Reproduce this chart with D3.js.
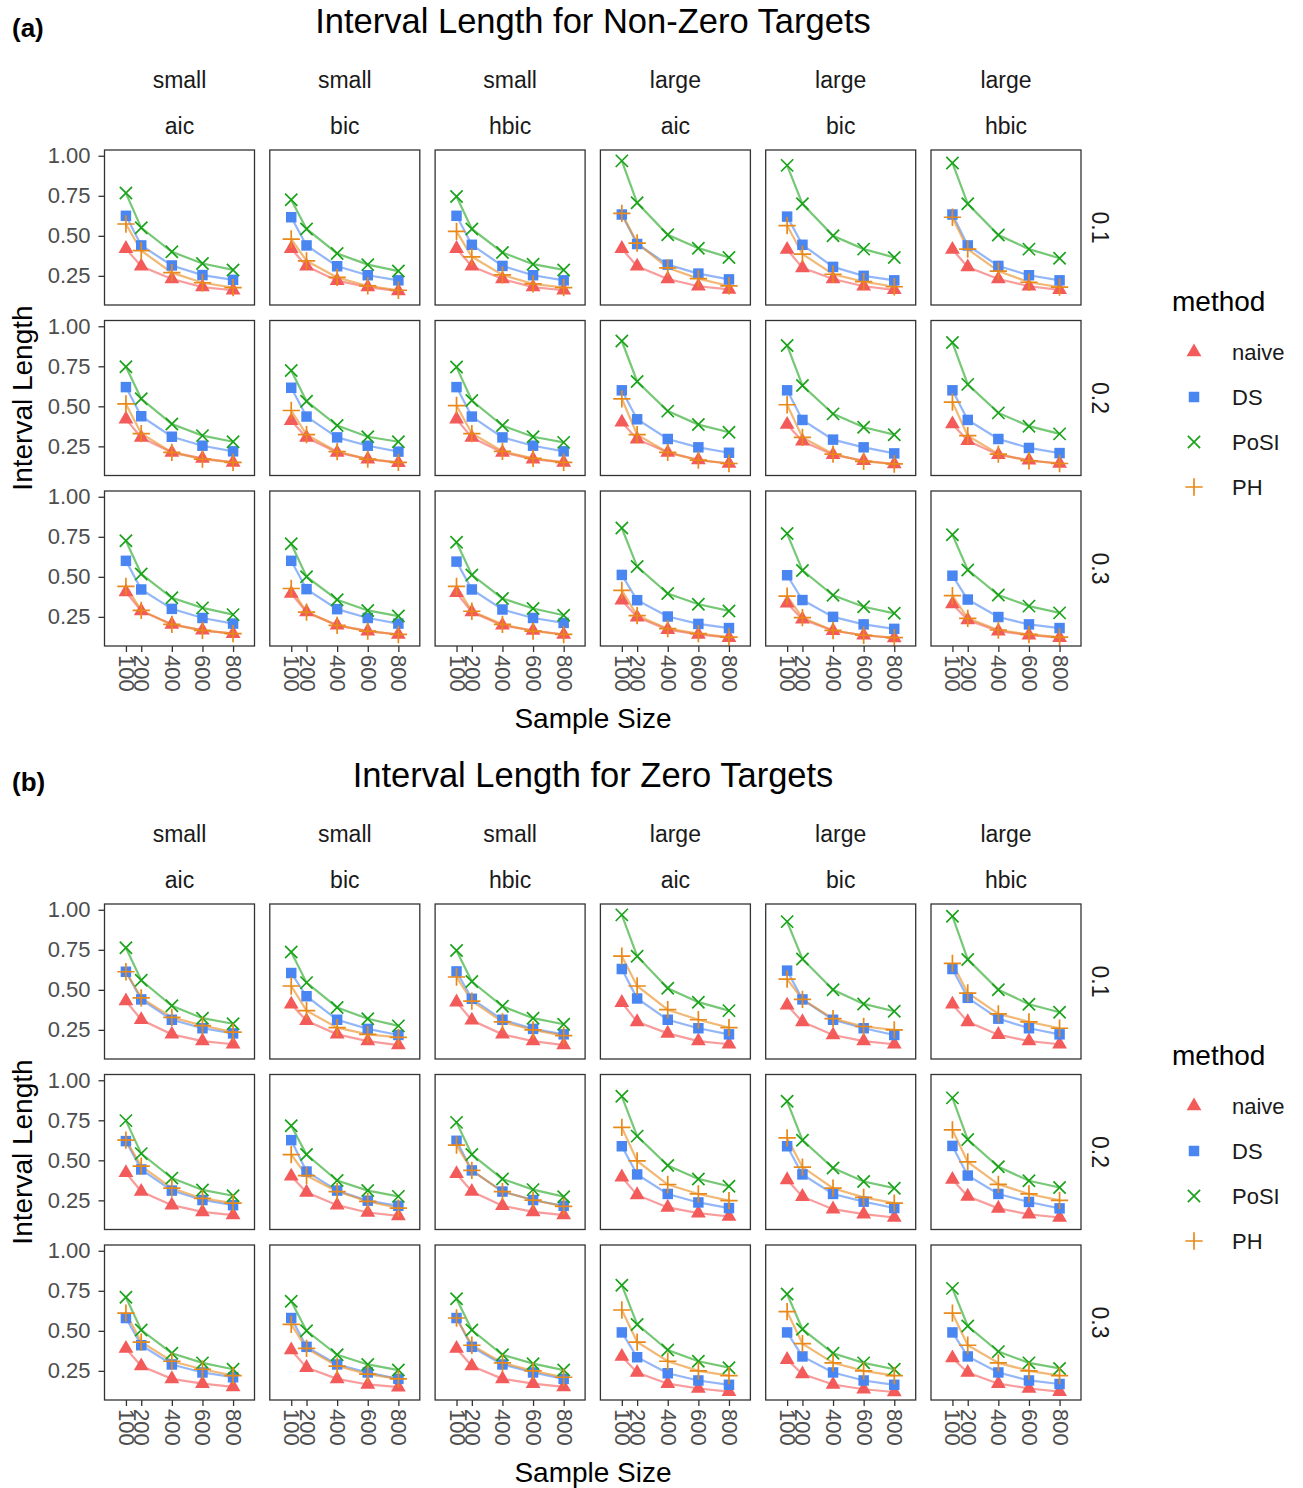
<!DOCTYPE html>
<html>
<head>
<meta charset="utf-8">
<script src="https://cdn.jsdelivr.net/npm/d3@7"></script>
<style>
  body { margin: 0; background: #fff; }
  svg { display: block; font-family: "Liberation Sans", Arial, sans-serif; }
</style>
</head>
<body>
<svg id="chart" width="1303" height="1488"></svg>
<script>
// ---- data -------------------------------------------------------------
const sampleSizes = [100, 200, 400, 600, 800];
const xTicks = [100, 200, 400, 600, 800];
const yTicks = [0.25, 0.5, 0.75, 1.0];
const methods = ["naive", "DS", "PoSI", "PH"];
const signalLabels = ["small", "small", "small", "large", "large", "large"];
const criterionLabels = ["aic", "bic", "hbic", "aic", "bic", "hbic"];
const rhoLabels = ["0.1", "0.2", "0.3"];

// each array: rows (0.1, 0.2, 0.3) x columns (6 facets) x sample sizes
const nonZeroNaive = [
	[[0.42,0.31,0.23,0.18,0.16],[0.42,0.31,0.22,0.18,0.155],[0.42,0.31,0.23,0.18,0.16],[0.42,0.31,0.23,0.185,0.165],[0.415,0.30,0.23,0.185,0.163],[0.415,0.305,0.23,0.185,0.163]],
	[[0.42,0.305,0.212,0.175,0.15],[0.41,0.305,0.212,0.17,0.148],[0.42,0.305,0.212,0.17,0.15],[0.40,0.295,0.212,0.165,0.143],[0.386,0.282,0.198,0.16,0.14],[0.39,0.285,0.198,0.163,0.143]],
	[[0.405,0.287,0.203,0.166,0.145],[0.396,0.28,0.197,0.161,0.14],[0.40,0.28,0.197,0.165,0.14],[0.354,0.248,0.17,0.14,0.12],[0.335,0.235,0.163,0.135,0.118],[0.33,0.23,0.161,0.136,0.12]]
];
const nonZeroDS = [
	[[0.625,0.44,0.315,0.255,0.225],[0.616,0.44,0.31,0.254,0.222],[0.625,0.444,0.312,0.254,0.222],[0.633,0.449,0.32,0.264,0.228],[0.62,0.444,0.306,0.25,0.222],[0.633,0.44,0.312,0.254,0.222]],
	[[0.62,0.438,0.31,0.254,0.219],[0.616,0.436,0.306,0.254,0.217],[0.62,0.436,0.306,0.254,0.219],[0.60,0.419,0.296,0.244,0.21],[0.60,0.415,0.292,0.244,0.206],[0.60,0.415,0.296,0.24,0.208]],
	[[0.60,0.421,0.30,0.243,0.208],[0.60,0.423,0.298,0.243,0.208],[0.595,0.421,0.296,0.243,0.212],[0.512,0.354,0.252,0.206,0.18],[0.51,0.355,0.25,0.203,0.175],[0.507,0.358,0.249,0.203,0.18]]
];
const nonZeroPoSI = [
	[[0.767,0.55,0.40,0.327,0.287],[0.725,0.543,0.39,0.32,0.28],[0.746,0.543,0.396,0.323,0.287],[0.968,0.706,0.507,0.423,0.365],[0.94,0.70,0.50,0.417,0.365],[0.955,0.70,0.505,0.417,0.36]],
	[[0.747,0.547,0.39,0.317,0.279],[0.724,0.532,0.38,0.31,0.279],[0.745,0.536,0.38,0.31,0.275],[0.908,0.655,0.47,0.386,0.338],[0.88,0.63,0.453,0.369,0.323],[0.898,0.637,0.459,0.376,0.328]],
	[[0.725,0.518,0.369,0.306,0.264],[0.707,0.501,0.357,0.29,0.255],[0.716,0.512,0.365,0.302,0.26],[0.805,0.564,0.396,0.329,0.287],[0.77,0.54,0.385,0.313,0.272],[0.763,0.543,0.386,0.317,0.275]]
];
const nonZeroPH = [
	[[0.574,0.407,0.27,0.207,0.176],[0.48,0.344,0.24,0.187,0.16],[0.528,0.369,0.256,0.20,0.176],[0.64,0.455,0.30,0.233,0.187],[0.564,0.386,0.26,0.214,0.182],[0.616,0.417,0.28,0.21,0.18]],
	[[0.515,0.33,0.212,0.17,0.15],[0.474,0.323,0.217,0.17,0.15],[0.505,0.33,0.219,0.175,0.15],[0.547,0.323,0.212,0.164,0.143],[0.51,0.306,0.202,0.156,0.14],[0.526,0.317,0.202,0.16,0.143]],
	[[0.44,0.29,0.203,0.166,0.145],[0.427,0.28,0.197,0.161,0.14],[0.44,0.285,0.203,0.161,0.14],[0.415,0.258,0.176,0.145,0.124],[0.38,0.245,0.165,0.135,0.12],[0.382,0.241,0.168,0.14,0.124]]
];

const zeroNaive = [
	[[0.43,0.313,0.222,0.18,0.16],[0.41,0.307,0.222,0.18,0.155],[0.423,0.31,0.222,0.18,0.155],[0.42,0.30,0.228,0.18,0.16],[0.404,0.30,0.218,0.18,0.16],[0.41,0.30,0.22,0.18,0.16]],
	[[0.422,0.305,0.22,0.178,0.158],[0.40,0.30,0.22,0.174,0.153],[0.416,0.305,0.216,0.178,0.158],[0.395,0.284,0.206,0.17,0.149],[0.378,0.273,0.195,0.164,0.143],[0.38,0.275,0.20,0.163,0.143]],
	[[0.39,0.28,0.20,0.17,0.15],[0.38,0.27,0.20,0.165,0.148],[0.39,0.28,0.20,0.17,0.15],[0.34,0.24,0.17,0.14,0.12],[0.32,0.23,0.165,0.135,0.118],[0.33,0.24,0.17,0.14,0.12]]
];
const zeroDS = [
	[[0.613,0.44,0.313,0.26,0.228],[0.605,0.46,0.313,0.256,0.218],[0.615,0.444,0.313,0.256,0.222],[0.63,0.446,0.313,0.26,0.222],[0.62,0.44,0.313,0.26,0.218],[0.63,0.45,0.32,0.26,0.222]],
	[[0.62,0.443,0.311,0.252,0.22],[0.626,0.43,0.311,0.248,0.216],[0.622,0.437,0.305,0.252,0.216],[0.588,0.412,0.29,0.237,0.202],[0.588,0.412,0.29,0.242,0.202],[0.59,0.405,0.29,0.24,0.20]],
	[[0.58,0.41,0.29,0.24,0.21],[0.58,0.40,0.29,0.24,0.20],[0.58,0.40,0.29,0.24,0.20],[0.49,0.335,0.235,0.19,0.163],[0.49,0.34,0.24,0.19,0.163],[0.49,0.34,0.24,0.19,0.168]]
];
const zeroPoSI = [
	[[0.763,0.56,0.40,0.323,0.288],[0.736,0.545,0.39,0.319,0.275],[0.746,0.552,0.397,0.323,0.285],[0.968,0.71,0.51,0.423,0.37],[0.926,0.693,0.50,0.412,0.366],[0.96,0.69,0.50,0.41,0.36]],
	[[0.748,0.542,0.389,0.315,0.279],[0.716,0.536,0.374,0.311,0.275],[0.737,0.536,0.384,0.317,0.273],[0.90,0.651,0.468,0.384,0.338],[0.869,0.626,0.452,0.368,0.326],[0.89,0.63,0.46,0.372,0.33]],
	[[0.71,0.505,0.36,0.30,0.26],[0.685,0.50,0.35,0.29,0.255],[0.70,0.505,0.35,0.295,0.255],[0.785,0.54,0.38,0.31,0.27],[0.73,0.51,0.36,0.30,0.26],[0.765,0.53,0.37,0.30,0.265]]
];
const zeroPH = [
	[[0.613,0.45,0.328,0.277,0.236],[0.524,0.37,0.264,0.222,0.203],[0.58,0.43,0.30,0.25,0.214],[0.71,0.524,0.376,0.313,0.264],[0.567,0.44,0.32,0.271,0.25],[0.665,0.48,0.35,0.30,0.26]],
	[[0.626,0.464,0.326,0.262,0.233],[0.536,0.405,0.305,0.244,0.202],[0.595,0.437,0.305,0.252,0.212],[0.706,0.496,0.349,0.29,0.248],[0.64,0.458,0.326,0.269,0.233],[0.69,0.49,0.35,0.29,0.25]],
	[[0.61,0.43,0.31,0.26,0.22],[0.54,0.39,0.28,0.23,0.20],[0.58,0.41,0.30,0.25,0.21],[0.63,0.43,0.31,0.25,0.22],[0.62,0.42,0.30,0.25,0.22],[0.61,0.41,0.30,0.25,0.22]]
];

// ---- styling ----------------------------------------------------------
const colors = { naive: "#F35A5A", DS: "#4A86F2", PoSI: "#1AA31A", PH: "#E8891A" };

// thin stroked symbols (ggplot shapes 3 and 4)
const symbolPlusThin = {
	draw(ctx, size) {
		const r = Math.sqrt(size) / 2;
		ctx.moveTo(-r, 0); ctx.lineTo(r, 0);
		ctx.moveTo(0, -r); ctx.lineTo(0, r);
	}
};
const symbolXThin = {
	draw(ctx, size) {
		const r = Math.sqrt(size) / 2;
		ctx.moveTo(-r, -r); ctx.lineTo(r, r);
		ctx.moveTo(-r, r); ctx.lineTo(r, -r);
	}
};
const shapes = {
	naive: { type: d3.symbolTriangle, size: 95, filled: true },
	DS: { type: d3.symbolSquare, size: 110, filled: true },
	PoSI: { type: symbolXThin, size: 150, filled: false },
	PH: { type: symbolPlusThin, size: 300, filled: false }
};

const plots = [
	{ tag: "(a)", title: "Interval Length for Non-Zero Targets", dy: 0,
		values: { naive: nonZeroNaive, DS: nonZeroDS, PoSI: nonZeroPoSI, PH: nonZeroPH } },
	{ tag: "(b)", title: "Interval Length for Zero Targets", dy: 754,
		values: { naive: zeroNaive, DS: zeroDS, PoSI: zeroPoSI, PH: zeroPH } }
];

const panelW = 150, panelH = 155;
const colX = d3.range(6).map(i => 104.5 + i * 165.3);
const rowY = [150, 320.5, 491];

const x = d3.scaleLinear().domain([-40, 940]).range([0, panelW]);
const y = d3.scaleLinear().domain([0.068, 1.036]).range([panelH, 0]);

const svg = d3.select("#chart");

function drawPlot(p) {
	const g = svg.append("g").attr("transform", `translate(0,${p.dy})`);

	//Tag and title
	g.append("text").attr("x", 12).attr("y", 37)
		.attr("font-size", 26).attr("font-weight", "bold").text(p.tag);
	g.append("text").attr("x", 593).attr("y", 33).attr("text-anchor", "middle")
		.attr("font-size", 34.5).text(p.title);

	//Top strips (two lines)
	colX.forEach((cx, j) => {
		g.append("text").attr("x", cx + panelW / 2).attr("y", 88).attr("text-anchor", "middle")
			.attr("font-size", 23).attr("fill", "#1A1A1A").text(signalLabels[j]);
		g.append("text").attr("x", cx + panelW / 2).attr("y", 134).attr("text-anchor", "middle")
			.attr("font-size", 23).attr("fill", "#1A1A1A").text(criterionLabels[j]);
	});

	//Right strips
	rowY.forEach((ry, i) => {
		g.append("text")
			.attr("transform", `translate(1100,${ry + panelH / 2}) rotate(90)`)
			.attr("text-anchor", "middle").attr("dominant-baseline", "central")
			.attr("font-size", 23).attr("fill", "#1A1A1A").text(rhoLabels[i]);
	});

	const line = d3.line().x(d => x(d[0])).y(d => y(d[1]));

	rowY.forEach((ry, i) => {
		colX.forEach((cx, j) => {
			const panel = g.append("g").attr("transform", `translate(${cx},${ry})`);

			//lines first, then points, in factor order
			methods.forEach(m => {
				const pts = sampleSizes.map((n, k) => [n, p.values[m][i][j][k]]);
				panel.append("path").datum(pts)
					.attr("d", line).attr("fill", "none")
					.attr("stroke", colors[m]).attr("stroke-opacity", 0.6).attr("stroke-width", 2.2);
			});
			methods.forEach(m => {
				const pts = sampleSizes.map((n, k) => [n, p.values[m][i][j][k]]);
				const sym = d3.symbol().type(shapes[m].type).size(shapes[m].size);
				panel.selectAll(null).data(pts).enter().append("path")
					.attr("transform", d => `translate(${x(d[0])},${y(d[1])})`)
					.attr("d", sym)
					.attr("fill", shapes[m].filled ? colors[m] : "none")
					.attr("stroke", shapes[m].filled ? "none" : colors[m])
					.attr("stroke-width", 1.7);
			});

			panel.append("rect").attr("width", panelW).attr("height", panelH)
				.attr("fill", "none").attr("stroke", "#333333").attr("stroke-width", 1.3);

			//Y axis on first column
			if (j === 0) {
				const ya = panel.append("g")
					.call(d3.axisLeft(y).tickValues(yTicks).tickFormat(d3.format(".2f")).tickSizeOuter(0).tickSize(6).tickPadding(8));
				ya.select(".domain").remove();
				ya.selectAll("line").attr("stroke", "#333333").attr("stroke-width", 1.3);
				ya.selectAll("text").attr("font-size", 22).attr("fill", "#4D4D4D")
					.attr("font-family", "Liberation Sans, Arial, sans-serif");
			}
			//X axis on bottom row
			if (i === 2) {
				const xa = panel.append("g").attr("transform", `translate(0,${panelH})`)
					.call(d3.axisBottom(x).tickValues(xTicks).tickSizeOuter(0).tickSize(6));
				xa.select(".domain").remove();
				xa.selectAll("line").attr("stroke", "#333333").attr("stroke-width", 1.3);
				xa.selectAll("text")
					.attr("y", null).attr("dy", null)
					.attr("transform", "translate(0,9) rotate(90)")
					.attr("text-anchor", "start").attr("dominant-baseline", "central")
					.attr("font-size", 22).attr("fill", "#4D4D4D")
					.attr("font-family", "Liberation Sans, Arial, sans-serif");
			}
		});
	});

	//Axis titles
	g.append("text").attr("x", 593).attr("y", 728).attr("text-anchor", "middle")
		.attr("font-size", 28).text("Sample Size");
	g.append("text")
		.attr("transform", `translate(22,${(rowY[0] + rowY[2] + panelH) / 2}) rotate(-90)`)
		.attr("text-anchor", "middle").attr("dominant-baseline", "central")
		.attr("font-size", 28).text("Interval Length");

	//Legend
	const lg = g.append("g").attr("transform", "translate(1172,0)");
	lg.append("text").attr("x", 0).attr("y", 311).attr("font-size", 28).text("method");
	methods.forEach((m, k) => {
		const ky = 352 + k * 45;
		lg.append("path")
			.attr("transform", `translate(22,${ky})`)
			.attr("d", d3.symbol().type(shapes[m].type).size(shapes[m].size)())
			.attr("fill", shapes[m].filled ? colors[m] : "none")
			.attr("stroke", shapes[m].filled ? "none" : colors[m])
			.attr("stroke-width", 1.7);
		lg.append("text").attr("x", 60).attr("y", ky).attr("dominant-baseline", "central")
			.attr("font-size", 22).attr("fill", "#1A1A1A").text(m);
	});
}

plots.forEach(drawPlot);
</script>
</body>
</html>
